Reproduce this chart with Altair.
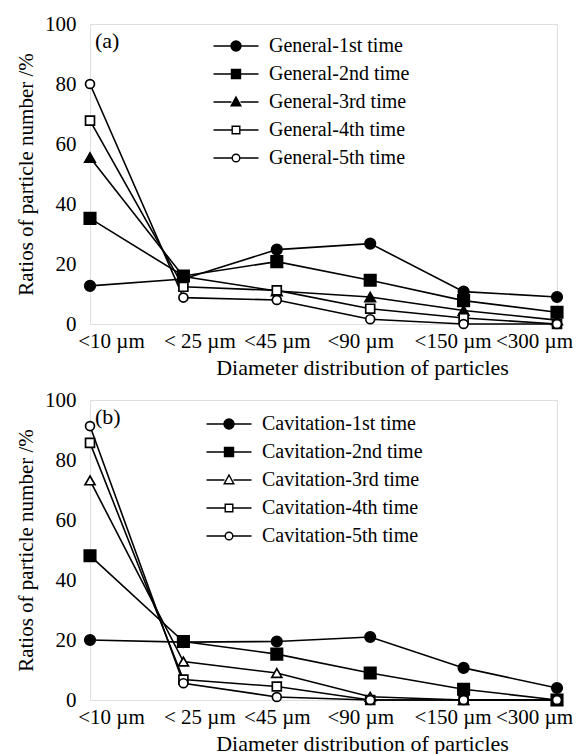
import altair as alt
import pandas as pd

categories = ["<10 µm", "< 25 µm", "<45 µm", "<90 µm", "<150 µm", "<300 µm"]

general_names = ["General-1st time", "General-2nd time", "General-3rd time",
                 "General-4th time", "General-5th time"]
general_1 = [12.7, 15.0, 24.8, 26.8, 10.8, 9.0]
general_2 = [35.2, 16.0, 20.8, 14.6, 7.8, 3.9]
general_3 = [55.5, 15.8, 11.0, 9.0, 4.5, 1.3]
general_4 = [67.8, 12.4, 11.2, 5.1, 2.0, 0.0]
general_5 = [80.0, 8.8, 8.0, 1.6, 0.0, 0.0]

cavitation_names = ["Cavitation-1st time", "Cavitation-2nd time", "Cavitation-3rd time",
                    "Cavitation-4th time", "Cavitation-5th time"]
cavitation_1 = [20.0, 19.3, 19.5, 21.0, 10.7, 4.0]
cavitation_2 = [48.1, 19.5, 15.3, 9.0, 3.6, 0.0]
cavitation_3 = [73.2, 12.8, 9.0, 1.1, 0.0, 0.0]
cavitation_4 = [85.7, 6.8, 4.5, 0.0, 0.0, 0.0]
cavitation_5 = [91.3, 5.6, 1.0, 0.0, 0.0, 0.0]

y_ticks = [0, 20, 40, 60, 80, 100]

FONT = "Liberation Serif"

# styling: per-label horizontal shift of the x tick labels (as in the scan)
label_shift = [21, 16, 0, -10, -11, -23]

# marker styles: (shape, fill, size)
markers_a = [("circle", "black", 110), ("square", "black", 130), ("triangle-up", "black", 110),
             ("square", "white", 80), ("circle", "white", 80)]
markers_b = [("circle", "black", 110), ("square", "black", 130), ("triangle-up", "white", 100),
             ("square", "white", 80), ("circle", "white", 80)]

# legend glyphs: line with marker (units: 1 = sqrt(symbolSize)/2 px)
def glyph(marker, half):
    line = f"M-2.25,0L-{half},0M{half},0L2.25,0"
    return line + marker

circ = lambda r: f"M{r},0A{r},{r},0,1,1,-{r},0A{r},{r},0,1,1,{r},0Z"
sq = lambda h: f"M-{h},-{h}L{h},-{h}L{h},{h}L-{h},{h}Z"
tri = "M0,-0.5L0.48,0.38L-0.48,0.38Z"
legend_paths = [glyph(circ(0.5), 0.5), glyph(sq(0.45), 0.45), glyph(tri, 0.45),
                glyph(sq(0.38), 0.38), glyph(circ(0.38), 0.38)]

x_offset = {
    "condition": [{"test": f"datum.value === '{c}'", "value": s}
                  for c, s in zip(categories, label_shift) if s != 0],
    "value": 0,
}


def panel(names, series, markers, tag, legend_x, legend_y, width, height):
    rows = []
    for n, vals in zip(names, series):
        for c, v in zip(categories, vals):
            rows.append({"size": c, "value": v, "series": n})
    df = pd.DataFrame(rows)

    xaxis = alt.Axis(title="Diameter distribution of particles", labelAngle=0, ticks=False,
                     domain=False, grid=False, labelFont=FONT, labelFontSize=21,
                     labelPadding=6, labelOffset=x_offset, labelColor="black",
                     titleFont=FONT, titleFontSize=22, titleFontWeight="normal",
                     titleColor="black", titlePadding=6, titleX=272)
    yaxis = alt.Axis(title="Ratios of particle number /%", values=y_ticks, ticks=False,
                     domain=False, grid=False, labelFont=FONT, labelFontSize=21,
                     labelPadding=14, labelColor="black", titleFont=FONT, titleFontSize=21,
                     titleFontWeight="normal", titleColor="black", titlePadding=8)

    base = alt.Chart(df).encode(
        x=alt.X("size:N", sort=categories, scale=alt.Scale(type="point", padding=0), axis=xaxis),
        y=alt.Y("value:Q", scale=alt.Scale(domain=[0, 100], nice=False), axis=yaxis),
    )
    lines = base.mark_line(color="black", strokeWidth=1.6).encode(detail="series:N")

    leg = alt.Legend(title=None, orient="none", legendX=legend_x, legendY=legend_y,
                     labelFont=FONT, labelFontSize=20, labelColor="black", labelOffset=22,
                     symbolSize=400, symbolStrokeWidth=1.4,
                     symbolOpacity=1, rowPadding=7, padding=0, labelLimit=300)
    ghost = base.mark_point(opacity=0, filled=True).encode(
        shape=alt.Shape("series:N", scale=alt.Scale(domain=names, range=legend_paths), legend=leg),
        fill=alt.Fill("series:N", scale=alt.Scale(domain=names, range=[m[1] for m in markers]),
                      legend=leg),
        stroke=alt.Stroke("series:N", scale=alt.Scale(domain=names, range=["black"] * len(names)),
                          legend=leg),
    )

    layers = [lines, ghost]
    for n, (shape, fill, size) in zip(names, markers):
        layers.append(
            base.transform_filter(alt.datum.series == n).mark_point(
                shape=shape, filled=True, fill=fill, stroke="black", strokeWidth=1.7,
                size=size, opacity=1)
        )
    tag_df = pd.DataFrame({"size": [categories[0]], "value": [100], "label": [tag]})
    text = alt.Chart(tag_df).mark_text(font=FONT, fontSize=22, align="left", baseline="top",
                                       dx=5, dy=7, color="black").encode(
        x=alt.X("size:N", sort=categories), y="value:Q", text="label:N")
    layers.append(text)
    return alt.layer(*layers).properties(width=width, height=height)


chart_a = panel(general_names, [general_1, general_2, general_3, general_4, general_5],
                markers_a, "(a)", 135, 11, 467, 300)
chart_b = panel(cavitation_names, [cavitation_1, cavitation_2, cavitation_3, cavitation_4, cavitation_5],
                markers_b, "(b)", 128, 13, 467, 300)

chart = alt.vconcat(chart_a, chart_b, spacing=9).resolve_scale(
    shape="independent", fill="independent", stroke="independent"
).properties(
    padding={"left": 7, "top": 4, "right": 0, "bottom": 0}
).configure_view(stroke="black", strokeWidth=1.2).configure(background="white")

chart.save("out.html", embed_options={"renderer": "svg", "actions": False})
